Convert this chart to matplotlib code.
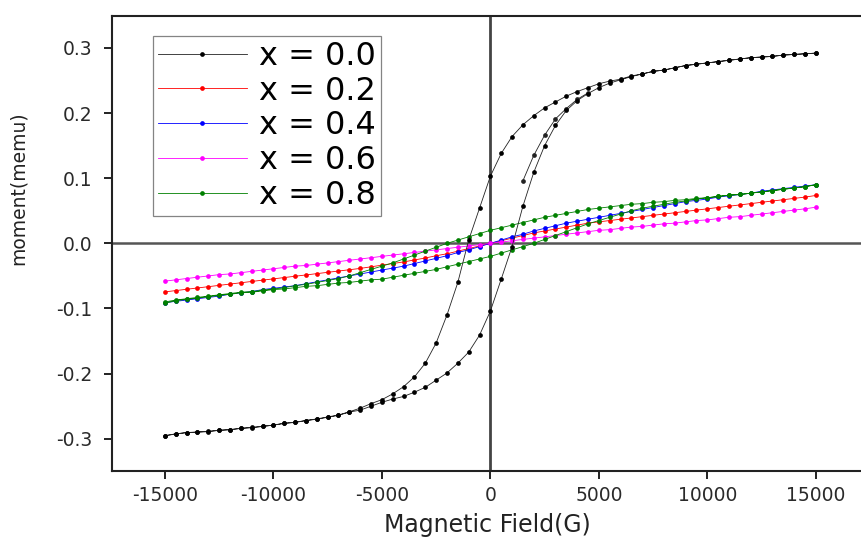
import numpy as np
import matplotlib
matplotlib.use("Agg")
import matplotlib.pyplot as plt

plt.rcParams['font.family'] = ['DejaVu Sans']
plt.rcParams['axes.unicode_minus'] = False

# Field grid (G), 500 G steps
field = np.arange(-15000, 15001, 500)

# x = 0.0 : hysteresis loop (descending / ascending branches)
m00_desc = [-0.2950, -0.2925, -0.2905, -0.2895, -0.2885, -0.2870, -0.2860, -0.2840, -0.2825, -0.2810,
            -0.2790, -0.2765, -0.2745, -0.2720, -0.2695, -0.2665, -0.2635, -0.2585, -0.2530, -0.2460,
            -0.2400, -0.2310, -0.2200, -0.2050, -0.1840, -0.1530, -0.1100, -0.0600, 0.0050, 0.0540,
            0.1030,
            0.1380, 0.1640, 0.1820, 0.1960, 0.2080, 0.2170, 0.2260, 0.2330, 0.2390, 0.2450,
            0.2490, 0.2520, 0.2570, 0.2600, 0.2640, 0.2660, 0.2695, 0.2730, 0.2750, 0.2770,
            0.2790, 0.2810, 0.2830, 0.2850, 0.2860, 0.2870, 0.2890, 0.2900, 0.2910, 0.2920]
m00_asc = [-0.2956, -0.2925, -0.2905, -0.2900, -0.2890, -0.2870, -0.2860, -0.2840, -0.2830, -0.2810,
           -0.2790, -0.2760, -0.2750, -0.2720, -0.2700, -0.2670, -0.2640, -0.2590, -0.2560, -0.2500,
           -0.2440, -0.2390, -0.2350, -0.2285, -0.2210, -0.2100, -0.1990, -0.1840, -0.1670, -0.1410,
           -0.1040,
           -0.0550, -0.0050, 0.0570, 0.1090, 0.1500, 0.1810, 0.2040, 0.2190, 0.2300, 0.2390,
           0.2460, 0.2510, 0.2560, 0.2600, 0.2640, 0.2660, 0.2695, 0.2730, 0.2750, 0.2770,
           0.2790, 0.2810, 0.2830, 0.2850, 0.2860, 0.2870, 0.2890, 0.2900, 0.2910, 0.2920]
# initial segment of the x = 0.0 run
field00_init = [1500, 2000, 2500, 3000, 3500, 4000, 4500]
m00_init = [0.096, 0.135, 0.166, 0.191, 0.207, 0.221, 0.231]

m02 = [-0.0745, -0.0725, -0.0705, -0.0685, -0.0665, -0.0645, -0.0625, -0.0605, -0.0585, -0.0565,
       -0.0545, -0.0525, -0.0505, -0.0485, -0.0465, -0.0445, -0.0425, -0.0405, -0.0385, -0.0360,
       -0.0335, -0.0310, -0.0285, -0.0255, -0.0225, -0.0190, -0.0160, -0.0120, -0.0080, -0.0040,
       0.0000,
       0.004, 0.008, 0.012, 0.016, 0.019, 0.022, 0.025, 0.028, 0.031, 0.033,
       0.035, 0.037, 0.039, 0.041, 0.043, 0.045, 0.047, 0.049, 0.051, 0.053,
       0.055, 0.057, 0.059, 0.061, 0.063, 0.065, 0.067, 0.069, 0.071, 0.0735]

m04 = [-0.091, -0.089, -0.087, -0.085, -0.083, -0.081, -0.078, -0.076, -0.074, -0.071,
       -0.069, -0.067, -0.065, -0.062, -0.059, -0.056, -0.053, -0.050, -0.047, -0.044,
       -0.041, -0.038, -0.035, -0.031, -0.027, -0.023, -0.019, -0.014, -0.010, -0.005,
       0.000,
       0.005, 0.010, 0.014, 0.019, 0.023, 0.027, 0.031, 0.034, 0.037, 0.040,
       0.043, 0.046, 0.049, 0.052, 0.055, 0.058, 0.061, 0.064, 0.066, 0.068,
       0.071, 0.073, 0.075, 0.077, 0.080, 0.082, 0.084, 0.086, 0.088, 0.090]

m06 = [-0.058, -0.056, -0.054, -0.052, -0.050, -0.048, -0.047, -0.045, -0.043, -0.041,
       -0.039, -0.037, -0.035, -0.034, -0.032, -0.030, -0.028, -0.026, -0.024, -0.022,
       -0.020, -0.018, -0.016, -0.014, -0.012, -0.010, -0.008, -0.006, -0.004, -0.002,
       0.000,
       0.002, 0.004, 0.006, 0.008, 0.010, 0.012, 0.014, 0.016, 0.018, 0.020,
       0.021, 0.023, 0.025, 0.026, 0.028, 0.030, 0.031, 0.033, 0.035, 0.036,
       0.038, 0.040, 0.041, 0.043, 0.045, 0.047, 0.049, 0.051, 0.053, 0.0555]

m08_desc = [-0.090, -0.087, -0.085, -0.083, -0.081, -0.079, -0.077, -0.075, -0.074, -0.072,
            -0.070, -0.068, -0.065, -0.063, -0.060, -0.057, -0.054, -0.050, -0.045, -0.040,
            -0.035, -0.030, -0.024, -0.018, -0.012, -0.006, 0.000, 0.005, 0.010, 0.015,
            0.020,
            0.024, 0.028, 0.032, 0.036, 0.040, 0.043, 0.046, 0.049, 0.052, 0.054,
            0.056, 0.058, 0.060, 0.061, 0.063, 0.064, 0.066, 0.067, 0.069, 0.070,
            0.072, 0.074, 0.075, 0.077, 0.079, 0.081, 0.083, 0.085, 0.087, 0.090]
m08_asc = [-0.092, -0.088, -0.086, -0.084, -0.082, -0.080, -0.078, -0.076, -0.075, -0.073,
           -0.071, -0.070, -0.068, -0.066, -0.065, -0.063, -0.061, -0.060, -0.058, -0.056,
           -0.055, -0.052, -0.049, -0.046, -0.043, -0.040, -0.036, -0.032, -0.028, -0.024,
           -0.020,
           -0.015, -0.010, -0.005, 0.000, 0.006, 0.012, 0.018, 0.024, 0.030, 0.035,
           0.040, 0.045, 0.050, 0.054, 0.057, 0.060, 0.063, 0.065, 0.068, 0.070,
           0.072, 0.074, 0.075, 0.077, 0.079, 0.081, 0.083, 0.085, 0.087, 0.090]

labels = ['x = 0.0', 'x = 0.2', 'x = 0.4', 'x = 0.6', 'x = 0.8']
colors = ['#000000', '#ff0000', '#0000ff', '#ff00ff', '#008000']

xticks = [-15000, -10000, -5000, 0, 5000, 10000, 15000]
yticks = [-0.3, -0.2, -0.1, 0.0, 0.1, 0.2, 0.3]

W, H = 862, 538
fig = plt.figure(figsize=(W / 100, H / 100), dpi=100)
ax = fig.add_axes([112 / W, 1 - 470.7 / H, 750 / W, 454.7 / H])

ax.axhline(0, color='#555555', lw=1.8, zorder=1)
ax.axvline(0, color='#444444', lw=2.0, zorder=1)

kw = dict(marker='o', ms=3.4, lw=0.6, mew=0)
fld = list(field)
# x = 0.0 loop
ax.plot(field00_init, m00_init, color='#222222', zorder=5, **kw)
ax.plot(fld[::-1] + fld, m00_desc[::-1] + m00_asc, color='#222222',
        mfc='#000000', label=labels[0], zorder=5, **kw)
ax.plot(field, m02, color=colors[1], label=labels[1], zorder=4, **kw)
ax.plot(field, m04, color=colors[2], label=labels[2], zorder=4, **kw)
ax.plot(field, m06, color=colors[3], label=labels[3], zorder=4, **kw)
ax.plot(fld[::-1] + fld, m08_desc[::-1] + m08_asc, color=colors[4],
        label=labels[4], zorder=4, **kw)

ax.set_xlim(-17440, 17130)
ax.set_ylim(-0.349, 0.349)
ax.set_xticks(xticks)
ax.set_xticklabels([str(v) for v in xticks])
ax.set_yticks(yticks)
ax.set_yticklabels(['%.1f' % v for v in yticks])

for s in ['left', 'bottom', 'top']:
    ax.spines[s].set_linewidth(1.5)
    ax.spines[s].set_color('#222222')
ax.spines['right'].set_visible(False)
ax.tick_params(axis='both', direction='out', length=6, width=1.4, color='#222222',
               labelsize=13.5, labelcolor='#2a2a2a')
ax.tick_params(axis='x', pad=5)
ax.tick_params(axis='y', pad=8)

ax.set_xlabel('Magnetic Field(G)', fontsize=17, color='#222222')
ax.xaxis.set_label_coords(0.5, -0.092)
ax.set_ylabel('moment(memu)', fontsize=13.5, color='#222222')
ax.yaxis.set_label_coords(-0.112, 0.622)

leg = ax.legend(loc='upper left', bbox_to_anchor=(41 / 750, 1 - 20 / 454.7),
                borderaxespad=0, fontsize=23, numpoints=1, handlelength=2.78,
                handletextpad=0.38, labelspacing=0.12, borderpad=0.15,
                fancybox=False, frameon=True, markerscale=1.0)
leg.get_frame().set_edgecolor('#666666')
leg.get_frame().set_linewidth(0.9)

fig.savefig('out.png', dpi=100)
